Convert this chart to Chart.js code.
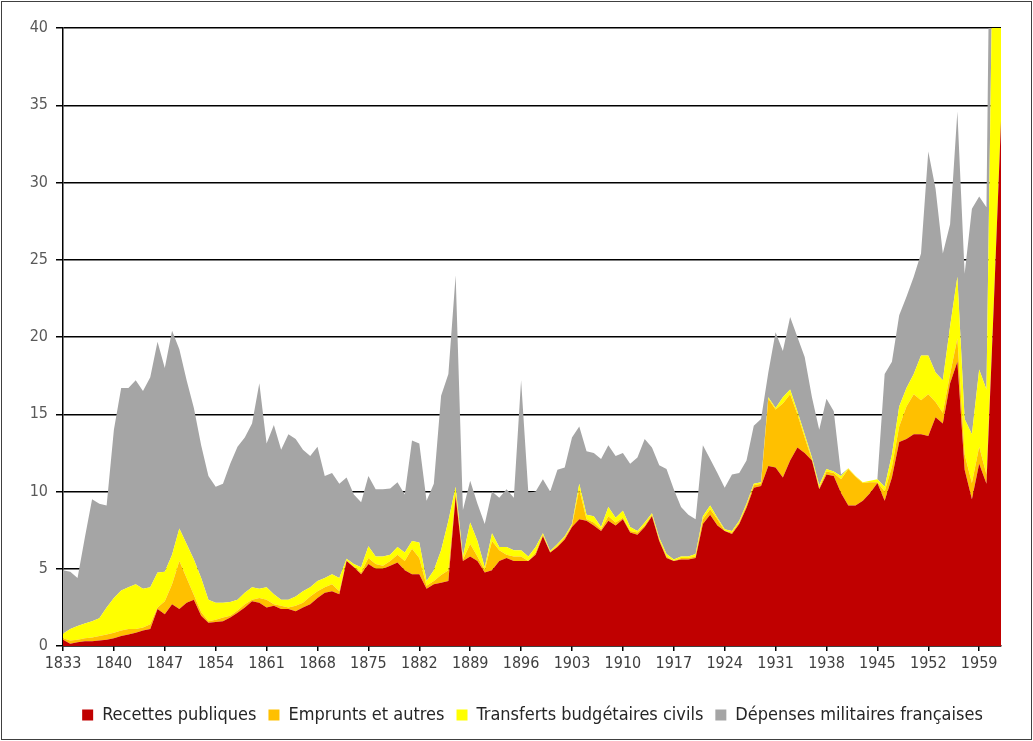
<!DOCTYPE html>
<html>
<head>
<meta charset="utf-8">
<script src="https://cdn.jsdelivr.net/npm/chart.js@4.4.1/dist/chart.umd.min.js"></script>
<style>
  html, body { margin: 0; padding: 0; background: #fff; }
  #wrap { width: 1033px; height: 741px; position: relative; }
</style>
</head>
<body>
<div id="wrap"><canvas id="myAreaChart" width="1033" height="741"></canvas></div>
<script>
// years on the category axis
var years = [];
for (var y = 1833; y <= 1962; y++) years.push(String(y));

// labelled ticks (every 7 years)
var tickYears = ["1833", "1840", "1847", "1854", "1861", "1868", "1875", "1882", "1889", "1896",
                 "1903", "1910", "1917", "1924", "1931", "1938", "1945", "1952", "1959"];

// series values (stacked)
var recettes = [
    0.4, 0.15, 0.25, 0.3, 0.3, 0.35, 0.4, 0.5, 0.65, 0.75,      // 1833-1842
    0.85, 1.0, 1.1, 2.4, 2.05, 2.7, 2.4, 2.8, 3.0, 1.95,         // 1843-1852
    1.5, 1.55, 1.6, 1.85, 2.15, 2.5, 2.9, 2.8, 2.5, 2.6,         // 1853-1862
    2.4, 2.4, 2.25, 2.5, 2.7, 3.1, 3.45, 3.55, 3.35, 5.5,        // 1863-1872
    5.1, 4.65, 5.3, 5.0, 5.0, 5.2, 5.4, 4.9, 4.65, 4.65,         // 1873-1882
    3.7, 4.0, 4.1, 4.2, 9.7, 5.5, 5.8, 5.5, 4.75, 4.9,           // 1883-1892
    5.5, 5.7, 5.5, 5.5, 5.5, 5.9, 7.1, 6.05, 6.4, 6.9,           // 1893-1902
    7.7, 8.2, 8.1, 7.8, 7.45, 8.1, 7.8, 8.2, 7.35, 7.2,          // 1903-1912
    7.7, 8.4, 6.8, 5.7, 5.5, 5.6, 5.6, 5.7, 7.9, 8.5,            // 1913-1922
    7.8, 7.45, 7.25, 7.9, 8.95, 10.25, 10.35, 11.65, 11.55, 10.9, // 1923-1932
    12.0, 12.85, 12.5, 12.0, 10.15, 11.1, 11.0, 9.9, 9.1, 9.1,   // 1933-1942
    9.4, 9.9, 10.55, 9.4, 10.9, 13.2, 13.4, 13.7, 13.7, 13.6,    // 1943-1952
    14.8, 14.4, 17.0, 18.4, 11.4, 9.5, 11.8, 10.5, 22.0, 34.0    // 1953-1962
];
var emprunts = [
    0.1, 0.2, 0.15, 0.2, 0.25, 0.3, 0.35, 0.35, 0.35, 0.35,
    0.25, 0.2, 0.3, 0.1, 0.85, 1.3, 3.1, 1.6, 0.3, 0.25,
    0.1, 0.15, 0.25, 0.1, 0.15, 0.2, 0.1, 0.3, 0.5, 0.1,
    0.2, 0.1, 0.35, 0.3, 0.5, 0.45, 0.35, 0.45, 0.2, 0.05,
    0.05, 0.1, 0.4, 0.3, 0.2, 0.3, 0.5, 0.6, 1.65, 1.05,
    0.2, 0.2, 0.5, 0.7, 0.2, 0.1, 0.8, 0.3, 0.15, 1.9,
    0.7, 0.2, 0.3, 0.3, 0.0, 0.15, 0.1, 0.0, 0.1, 0.1,
    0.1, 1.95, 0.1, 0.2, 0.1, 0.3, 0.2, 0.1, 0.1, 0.15,
    0.1, 0.1, 0.1, 0.1, 0.0, 0.1, 0.1, 0.1, 0.3, 0.35,
    0.4, 0.0, 0.1, 0.1, 0.15, 0.15, 0.15, 4.35, 3.75, 4.8,
    4.3, 2.15, 1.0, 0.05, 0.1, 0.2, 0.2, 0.9, 2.35, 1.85,
    1.15, 0.7, 0.05, 0.6, 0.7, 1.0, 2.1, 2.6, 2.2, 2.7,
    1.0, 0.7, 0.6, 1.5, 1.0, 1.05, 1.1, 0.6, 0.0, 0.0
];
var transferts = [
    0.3, 0.75, 0.9, 0.95, 1.05, 1.15, 1.75, 2.25, 2.6, 2.7,
    2.9, 2.5, 2.4, 2.25, 1.9, 1.9, 2.1, 2.2, 2.3, 2.2,
    1.4, 1.1, 0.95, 0.9, 0.7, 0.75, 0.8, 0.6, 0.8, 0.65,
    0.4, 0.5, 0.6, 0.75, 0.6, 0.65, 0.6, 0.65, 0.85, 0.1,
    0.15, 0.35, 0.75, 0.5, 0.6, 0.4, 0.5, 0.55, 0.5, 1.0,
    0.3, 0.7, 1.6, 3.2, 0.4, 0.2, 1.4, 1.0, 0.2, 0.5,
    0.2, 0.5, 0.4, 0.4, 0.3, 0.35, 0.1, 0.1, 0.1, 0.1,
    0.1, 0.35, 0.3, 0.4, 0.15, 0.6, 0.3, 0.45, 0.25, 0.1,
    0.2, 0.1, 0.1, 0.15, 0.1, 0.1, 0.1, 0.15, 0.2, 0.25,
    0.1, 0.1, 0.1, 0.1, 0.1, 0.1, 0.1, 0.1, 0.1, 0.4,
    0.3, 0.2, 0.2, 0.15, 0.15, 0.15, 0.1, 0.2, 0.05, 0.05,
    0.05, 0.1, 0.2, 0.3, 0.8, 1.3, 1.2, 1.3, 2.9, 2.5,
    1.9, 2.1, 3.1, 4.0, 2.3, 3.15, 5.0, 5.5, 28.0, 26.0
];
var militaires = [
    4.1, 3.7, 3.1, 5.55, 7.9, 7.4, 6.6, 10.9, 13.1, 12.9,
    13.2, 12.8, 13.6, 14.95, 13.2, 14.5, 11.6, 10.6, 9.8, 8.6,
    8.0, 7.5, 7.7, 8.95, 9.9, 10.05, 10.6, 13.3, 9.3, 10.95,
    9.7, 10.7, 10.2, 9.15, 8.5, 8.7, 6.6, 6.55, 6.1, 5.25,
    4.5, 4.2, 4.55, 4.35, 4.35, 4.3, 4.2, 3.75, 6.5, 6.4,
    5.2, 5.6, 10.0, 9.5, 13.7, 3.0, 2.7, 2.4, 2.8, 2.7,
    3.2, 3.75, 3.4, 11.0, 4.1, 3.6, 3.5, 3.85, 4.8, 4.45,
    5.6, 3.7, 4.1, 4.1, 4.4, 4.0, 4.0, 3.75, 4.1, 4.75,
    5.4, 4.25, 4.7, 5.5, 4.55, 3.2, 2.7, 2.25, 4.6, 3.0,
    2.9, 2.7, 3.65, 3.1, 2.8, 3.75, 4.1, 1.6, 4.9, 3.0,
    4.7, 4.8, 5.0, 3.9, 3.6, 4.55, 3.9, 0.1, 0.0, 0.0,
    0.0, 0.0, 0.0, 7.3, 6.0, 5.9, 5.9, 6.3, 6.6, 13.2,
    11.9, 8.2, 6.6, 10.7, 9.4, 14.6, 11.2, 11.8, 20.0, 20.0
];

var seriesNames = ["Recettes publiques", "Emprunts et autres", "Transferts budgétaires civils", "Dépenses militaires françaises"];
var seriesColors = ["#C00000", "#FFC000", "#FFFF00", "#A5A5A5"];
var seriesData = [recettes, emprunts, transferts, militaires];

var fontFamily = "'Liberation Sans Narrow', 'DejaVu Sans Condensed', 'Liberation Sans', sans-serif";

var datasets = seriesData.map(function (d, i) {
    return {
        label: seriesNames[i],
        data: d,
        backgroundColor: seriesColors[i],
        borderColor: seriesColors[i],
        borderWidth: 0,
        pointRadius: 0,
        pointHoverRadius: 0,
        tension: 0,
        fill: i === 0 ? 'origin' : '-1'
    };
});

// thin frame around the whole picture, and legend centred on the full width
var framePlugin = {
    id: 'frame',
    afterLayout: function (chart) {
        var lg = chart.legend;
        if (lg) { lg.left += 32; lg.right += 32; }
    },
    afterDraw: function (chart) {
        var c = chart.ctx;
        c.save();
        c.strokeStyle = '#404040';
        c.lineWidth = 1;
        c.strokeRect(1.5, 1.5, chart.width - 3, chart.height - 3);
        c.restore();
    }
};

var ctx = document.getElementById('myAreaChart').getContext('2d');
var chart = new Chart(ctx, {
    type: 'line',
    data: {
        labels: years,
        datasets: datasets
    },
    plugins: [framePlugin],
    options: {
        responsive: false,
        animation: false,
        events: [],
        layout: { padding: { left: 0, right: 32, top: 28, bottom: 7 } },
        plugins: {
            tooltip: { enabled: false },
            legend: {
                position: 'bottom',
                labels: {
                    boxWidth: 11,
                    boxHeight: 11,
                    padding: 12,
                    color: '#262626',
                    font: { family: fontFamily, size: 18 }
                }
            }
        },
        scales: {
            x: {
                stacked: true,
                offset: false,
                afterFit: function (scale) { scale.height = 48; },
                grid: {
                    drawOnChartArea: false,
                    drawTicks: true,
                    tickLength: 5,
                    lineWidth: 1.5,
                    color: function (c) { return tickYears.indexOf(years[c.index]) >= 0 ? '#000' : 'rgba(0,0,0,0)'; },
                    tickColor: function (c) { return tickYears.indexOf(years[c.index]) >= 0 ? '#000' : 'rgba(0,0,0,0)'; }
                },
                border: { display: true, color: '#000', width: 1.5 },
                ticks: {
                    autoSkip: false,
                    maxRotation: 0,
                    padding: 3,
                    color: '#404040',
                    font: { family: fontFamily, size: 16 },
                    callback: function (v, i) { return tickYears.indexOf(years[i]) >= 0 ? years[i] : ''; }
                }
            },
            y: {
                stacked: true,
                min: 0,
                max: 40,
                afterFit: function (scale) { scale.width = 63; },
                grid: {
                    color: '#000',
                    lineWidth: 1.5,
                    tickLength: 7,
                    tickColor: '#000'
                },
                border: { display: true, color: '#000', width: 1.5 },
                ticks: {
                    stepSize: 5,
                    padding: 8,
                    color: '#595959',
                    font: { family: fontFamily, size: 16 }
                }
            }
        }
    }
});
</script>
</body>
</html>
